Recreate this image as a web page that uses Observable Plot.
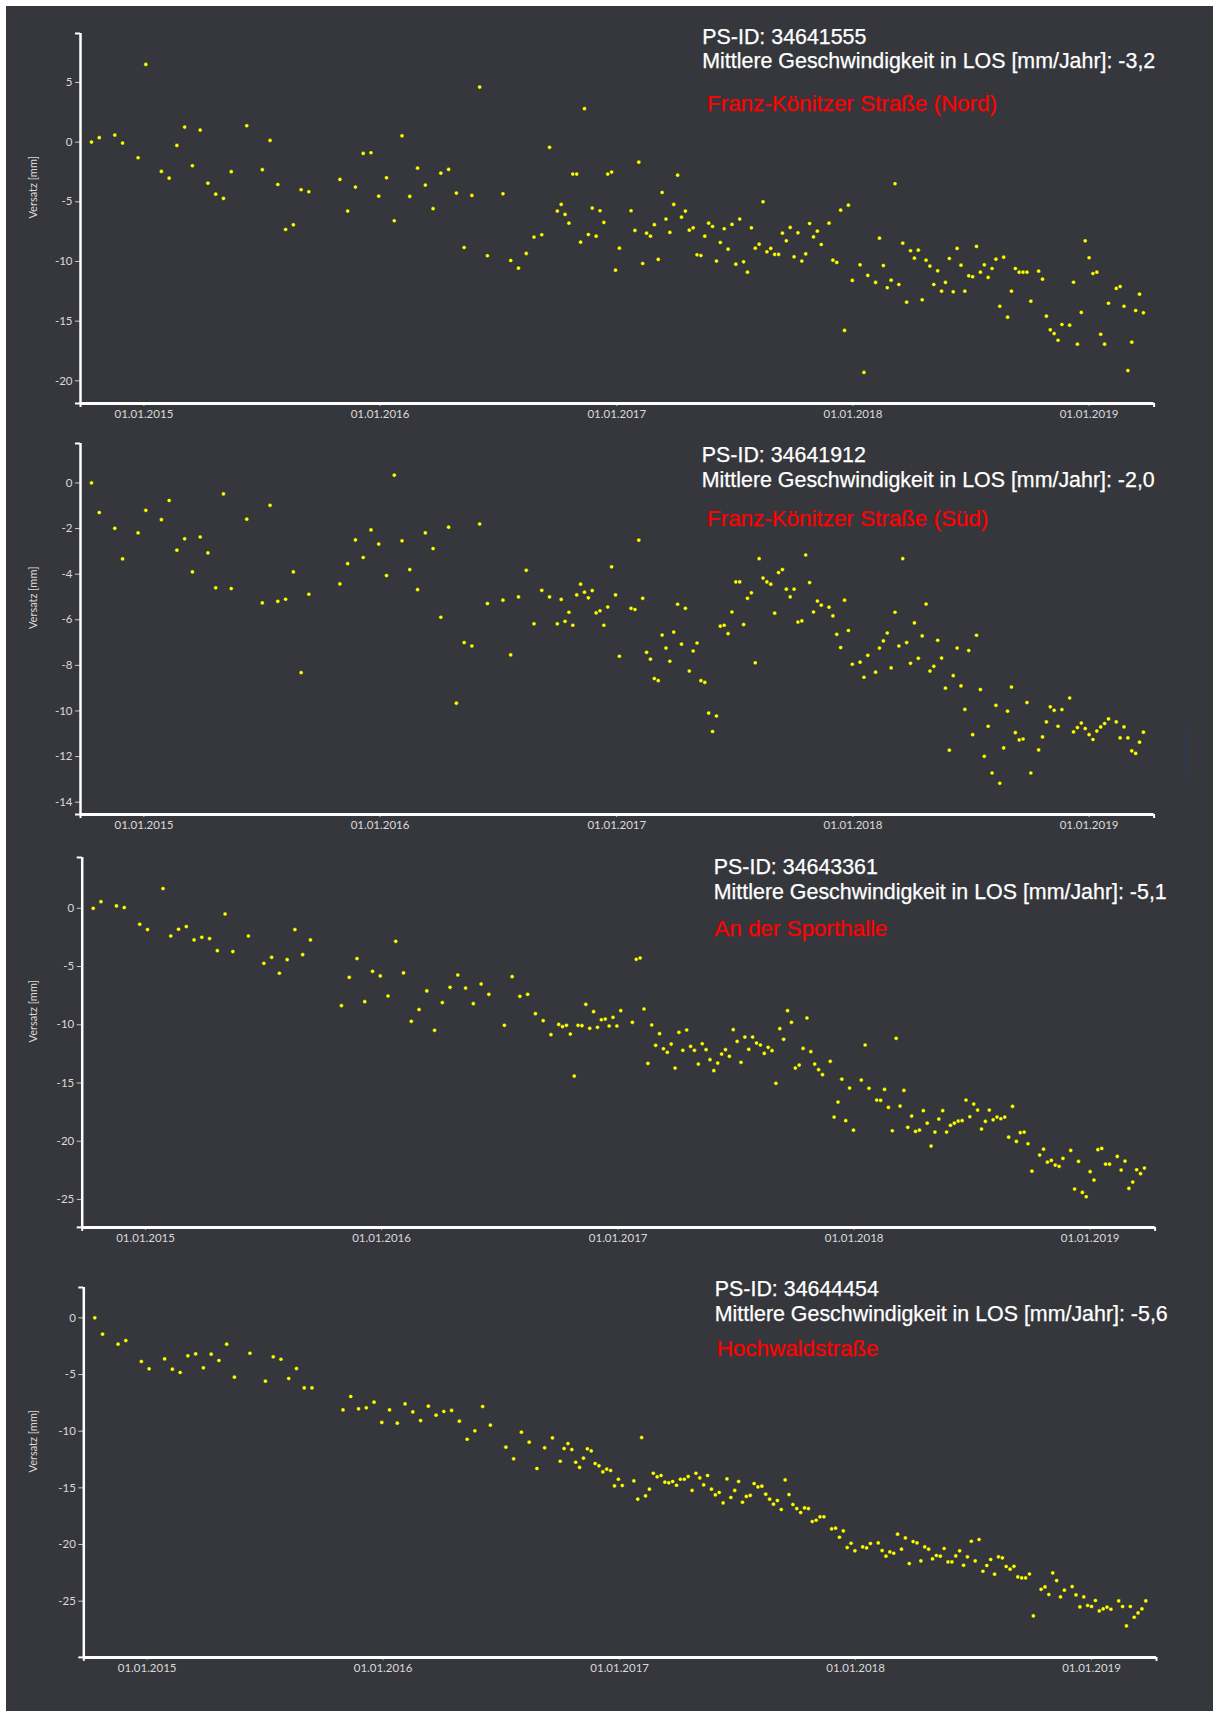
<!DOCTYPE html>
<html><head><meta charset="utf-8">
<script src="https://cdn.jsdelivr.net/npm/d3@7"></script>
<script src="https://cdn.jsdelivr.net/npm/@observablehq/plot@0.6"></script>
<style>
html,body{margin:0;padding:0}
body{background:#fff;width:1213px;height:1711px;position:relative;overflow:hidden}
#bg{position:absolute;left:6px;top:6px;width:1207px;height:1705px;background:#36373c}
.panel{position:absolute;left:0}
.hd{position:absolute;font-family:"Liberation Sans",Arial,sans-serif;color:#fff;font-size:21.4px;line-height:21.4px;white-space:nowrap;-webkit-text-stroke:0.25px currentColor}
.hd.red{color:#ff0000;font-size:22.4px;line-height:22.4px}
#artifact{position:absolute;left:1185px;top:725px;width:2px;height:52px;background:#2d3852}
</style></head><body>
<div id="bg"></div>
<div id="artifact"></div>
<script>
// Acquisition dates (shared by all four measuring points)
const dates = [
"2014-10-12","2014-10-24","2014-11-17","2014-11-29","2014-12-23","2015-01-04","2015-01-28","2015-02-09","2015-02-21","2015-03-05",
"2015-03-17","2015-03-29","2015-04-10","2015-04-22","2015-05-04","2015-05-16","2015-06-09","2015-07-03","2015-07-15","2015-07-27",
"2015-08-08","2015-08-20","2015-09-01","2015-09-13","2015-10-31","2015-11-12","2015-11-24","2015-12-06","2015-12-18","2015-12-30",
"2016-01-11","2016-01-23","2016-02-04",
"2016-02-16","2016-02-28","2016-03-11","2016-03-23","2016-04-04","2016-04-16","2016-04-28","2016-05-10","2016-05-22","2016-06-03","2016-06-15",
"2016-07-09","2016-07-21","2016-08-02","2016-08-14","2016-08-26","2016-09-07","2016-09-19",
"2016-10-01","2016-10-07","2016-10-13","2016-10-19","2016-10-25","2016-10-31","2016-11-06","2016-11-12","2016-11-18","2016-11-24",
"2016-11-30","2016-12-06","2016-12-12","2016-12-18","2016-12-24","2016-12-30","2017-01-05",
"2017-01-23","2017-01-29","2017-02-04","2017-02-10","2017-02-16","2017-02-22","2017-02-28","2017-03-06","2017-03-12","2017-03-18",
"2017-03-24","2017-03-30","2017-04-05","2017-04-11","2017-04-17","2017-04-23","2017-04-29","2017-05-05","2017-05-11","2017-05-17",
"2017-05-23","2017-05-29","2017-06-04","2017-06-10","2017-06-16","2017-06-22","2017-06-28","2017-07-04","2017-07-10","2017-07-16",
"2017-07-22","2017-07-28","2017-08-03","2017-08-09","2017-08-15","2017-08-21","2017-08-27","2017-09-02","2017-09-08","2017-09-14",
"2017-09-20","2017-09-26","2017-10-02","2017-10-08","2017-10-14","2017-10-20","2017-10-26","2017-11-01","2017-11-07","2017-11-13",
"2017-11-25","2017-12-01","2017-12-07","2017-12-13","2017-12-19","2017-12-25","2017-12-31",
"2018-01-12","2018-01-18","2018-01-24",
"2018-02-05","2018-02-11","2018-02-17","2018-02-23","2018-03-01","2018-03-07","2018-03-13","2018-03-19","2018-03-25","2018-03-31",
"2018-04-06","2018-04-12","2018-04-18","2018-04-24","2018-04-30","2018-05-06","2018-05-12","2018-05-18","2018-05-24","2018-05-30",
"2018-06-05","2018-06-11","2018-06-17","2018-06-23","2018-06-29","2018-07-05","2018-07-11","2018-07-17","2018-07-23","2018-07-29",
"2018-08-04","2018-08-10","2018-08-16","2018-08-22","2018-08-28","2018-09-03","2018-09-09","2018-09-15","2018-09-21","2018-09-27",
"2018-10-03",
"2018-10-15","2018-10-21","2018-10-27","2018-11-02","2018-11-08","2018-11-14","2018-11-20",
"2018-12-02","2018-12-08","2018-12-14","2018-12-20","2018-12-26","2019-01-01","2019-01-07","2019-01-13","2019-01-19","2019-01-25","2019-01-31",
"2019-02-12","2019-02-18","2019-02-24","2019-03-02","2019-03-08","2019-03-14","2019-03-20","2019-03-26"
];

// Versatz [mm] per measuring point
const versatz34641555 = [
0.0,0.37,0.59,-0.08,-1.31,6.51,-2.46,-3.02,-0.28,1.26,-1.98,1.01,-3.44,-4.36,-4.72,-2.48,1.37,-2.31,0.14,-3.55,-7.32,-6.93,-3.99,-4.16,-3.13,-5.78,-3.77,-0.95,-0.89,-4.53,-2.99,-6.59,0.53,
-4.55,-2.18,-3.6,-5.58,-2.6,-2.29,-4.27,-8.83,-4.47,4.61,-9.52,
-4.33,-9.92,-10.56,-9.33,-7.96,-7.76,-0.44,
-5.78,-5.22,-6.06,-6.79,-2.68,-2.68,-8.38,2.8,-7.74,-5.53,-7.88,-5.75,-6.73,-2.68,-2.51,-10.73,-8.89,
-5.75,-7.4,-1.68,-10.17,-7.63,-7.88,-6.92,-9.83,-4.22,-6.45,-7.57,-5.22,-2.77,-6.29,-5.78,-7.38,-7.18,-9.44,-9.5,-7.88,-6.79,-7.07,-9.97,-8.41,-7.26,-8.97,-6.9,-10.23,-6.45,
-10.03,-10.9,-7.18,-8.89,-8.55,-5.0,-9.19,-8.91,-9.41,-9.41,-7.63,-8.27,-7.15,-9.61,-7.6,-9.97,-9.36,-6.82,-7.94,-7.46,-8.58,
-6.79,-9.89,-10.08,-5.7,-15.78,-5.28,-11.59,
-10.28,-19.3,-11.17,
-11.76,-8.05,-10.34,-12.2,-11.57,-3.49,-11.93,-8.47,-13.41,-9.1,-9.72,-9.05,-13.21,-9.89,-10.39,-11.93,-10.78,-12.49,-11.76,-9.75,-12.54,-8.91,-10.31,-12.49,-11.2,-11.28,-8.74,-10.9,-10.28,-11.34,-10.59,-9.81,-13.75,-9.64,-14.67,-12.49,-10.59,-10.9,-10.9,-10.9,-13.33,
-10.81,-11.48,-14.58,-15.73,-16.04,-16.6,-15.28,
-15.34,-11.74,-16.93,-14.27,-8.27,-9.69,-11.01,-10.9,-16.1,-16.93,-13.5,
-12.26,-12.1,-13.75,-19.14,-16.76,-14.11,-12.74,-14.3
];
const versatz34641912 = [
0.0,-1.3,-1.99,-3.33,-2.19,-1.2,-1.61,-0.77,-2.95,-2.45,-3.9,-2.37,-3.07,-4.6,-0.48,-4.63,-1.59,-5.26,-0.98,-5.19,-5.1,-3.9,-8.32,-4.88,-4.43,-3.54,-2.5,-3.27,-2.06,-2.68,-4.06,0.34,-2.54,
-3.8,-4.68,-2.19,-2.88,-5.89,-1.94,-9.66,-7.0,-7.15,-1.8,-5.29,
-5.14,-7.54,-5.0,-3.83,-6.18,-4.71,-5.0,
-6.18,-5.11,-6.07,-5.67,-6.24,-4.91,-4.44,-4.79,-5.04,-4.72,-5.7,-5.61,-6.24,-5.44,-3.68,-4.91,-7.6,
-5.5,-5.55,-2.51,-5.06,-7.43,-7.73,-8.58,-8.67,-6.67,-7.24,-7.82,-6.54,-5.32,-7.07,-5.5,-8.25,-7.37,-7.02,-8.67,-8.75,-10.09,-10.9,-10.22,-6.28,-6.24,-6.61,-5.66,-4.34,-4.34,
-6.21,-5.06,-4.82,-7.89,-3.32,-4.17,-4.34,-4.44,-5.71,-3.93,-3.8,-4.66,-5.0,-4.66,-6.1,-6.05,-3.16,-4.37,-5.66,-5.18,-5.36,
-5.45,-5.83,-6.64,-7.22,-5.14,-6.47,-7.95,
-7.86,-8.52,-7.56,
-8.3,-7.24,-6.93,-6.58,-8.11,-5.67,-7.15,-3.32,-7.0,-7.91,-6.14,-7.69,-6.71,-5.31,-8.25,-8.04,-6.9,-7.68,-9.0,-11.72,-8.45,-7.24,-8.9,-9.93,-7.35,-11.04,-6.68,-9.06,-11.99,-10.67,-12.72,-9.75,-13.17,-11.62,-10.01,-8.95,-10.95,-11.27,-11.23,-9.63,-12.72,
-11.71,-11.14,-10.48,-9.82,-9.97,-10.67,-9.94,
-9.43,-10.92,-10.73,-10.53,-10.77,-11.04,-11.25,-10.88,-10.7,-10.55,-10.35,
-10.48,-11.18,-10.7,-11.18,-11.75,-11.86,-11.37,-10.93
];
const versatz34643361 = [
0.0,0.57,0.2,0.06,-1.37,-1.83,1.69,-2.38,-1.8,-1.57,-2.72,-2.49,-2.6,-3.64,-0.49,-3.72,-2.38,-4.73,-4.21,-5.58,-4.41,-1.83,-3.98,-2.72,-8.36,-5.93,-4.32,-8.02,-5.41,-5.81,-7.53,-2.84,-5.55,
-9.71,-8.7,-7.1,-10.48,-8.1,-6.79,-5.73,-6.85,-8.19,-6.5,-7.39,
-10.05,-5.87,-7.56,-7.39,-9.05,-9.65,-10.85,
-9.97,-10.16,-10.05,-10.8,-14.41,-10.05,-10.08,-8.25,-10.31,-8.88,-10.22,-9.57,-9.51,-10.11,-9.36,-10.11,-8.79,
-9.79,-4.38,-4.27,-8.65,-13.32,-10.02,-11.77,-10.77,-12.06,-12.37,-11.66,-13.72,-10.65,-12.2,-10.45,-11.86,-12.2,-13.38,-11.63,-12.14,-13.0,-13.94,-13.29,-12.52,-12.14,-12.71,-10.42,-11.43,-13.23,
-11.06,-12.11,-11.06,-11.57,-11.74,-12.46,-11.94,-12.23,-15.03,-10.34,-11.25,-8.79,-9.79,-13.72,-13.46,-12.03,-9.42,-12.31,-13.38,-13.86,-14.29,
-13.14,-17.93,-16.64,-14.67,-18.24,-15.44,-19.05,
-14.75,-11.74,-15.46,
-16.47,-16.49,-15.55,-17.1,-19.1,-11.17,-16.98,-15.64,-18.81,-17.84,-19.16,-19.05,-17.38,-18.45,-20.42,-19.22,-18.1,-17.38,-19.22,-18.64,-18.45,-18.27,-18.24,-16.47,-17.9,-16.81,-17.33,-18.96,-18.3,-17.33,-18.16,-17.93,-18.07,-17.93,-19.65,-17.01,-20.02,-19.27,-19.22,-20.22,-22.57,
-21.19,-20.68,-21.8,-21.65,-22.05,-22.16,-21.48,
-20.79,-24.11,-21.74,-24.4,-24.77,-22.62,-23.34,-20.73,-20.62,-21.97,-21.97,
-21.31,-22.48,-21.71,-24.05,-23.51,-22.45,-22.79,-22.31
];
const versatz34644454 = [
0.0,-1.44,-2.32,-2.0,-3.85,-4.5,-3.62,-4.53,-4.82,-3.35,-3.18,-4.41,-3.2,-3.76,-2.32,-5.23,-3.12,-5.59,-3.44,-3.65,-5.35,-4.47,-6.18,-6.18,-8.12,-6.94,-8.03,-7.94,-7.44,-9.23,-8.12,-9.29,-7.59,
-8.3,-9.06,-7.79,-8.59,-8.26,-8.17,-9.12,-10.71,-9.97,-7.82,-9.47,
-11.41,-12.44,-10.09,-10.97,-13.29,-11.47,-10.59,
-12.65,-11.53,-11.09,-11.62,-12.74,-13.2,-12.38,-11.56,-11.74,-12.85,-13.06,-13.59,-13.35,-13.47,-14.83,-14.24,-14.79,
-14.39,-16.0,-10.56,-15.71,-15.12,-13.71,-14.03,-13.91,-14.5,-14.56,-14.44,-14.77,-14.24,-14.24,-14.0,-15.23,-13.71,-14.12,-14.74,-13.91,-15.12,-15.62,-15.41,-16.33,-14.21,-15.85,-15.23,-14.44,-16.27,
-15.76,-15.67,-14.62,-14.92,-14.85,-15.56,-16.0,-16.44,-16.12,-16.91,-14.3,-15.59,-16.47,-16.83,-17.18,-16.77,-16.83,-17.97,-17.86,-17.56,-17.56,
-18.62,-18.56,-19.36,-18.8,-20.27,-19.89,-20.56,
-20.21,-20.3,-19.91,
-19.86,-20.53,-21.03,-20.65,-20.77,-19.09,-20.41,-19.42,-21.68,-19.74,-19.86,-21.45,-20.21,-20.41,-21.27,-20.97,-21.03,-20.35,-21.54,-21.54,-21.01,-20.56,-21.83,-21.09,-19.71,-21.45,-19.56,-22.36,-21.85,-21.32,-22.62,-21.09,-21.18,-21.94,-22.18,-21.92,-22.86,-22.95,-22.95,-22.6,-26.3,
-23.95,-23.74,-24.41,-22.51,-23.18,-24.62,-24.03,
-23.71,-24.45,-25.51,-24.62,-25.38,-25.47,-24.94,-25.86,-25.68,-25.53,-25.71,
-24.98,-25.47,-27.18,-25.47,-26.42,-26.04,-25.68,-24.98
];

const psIds = ["34641555","34641912","34643361","34644454"];
const speeds = ["-3,2","-2,0","-5,1","-5,6"];
const places = ["Franz-Könitzer Straße (Nord)","Franz-Könitzer Straße (Süd)","An der Sporthalle","Hochwaldstraße"];
const series = [versatz34641555, versatz34641912, versatz34643361, versatz34644454];
const yDomains = [[-21.9, 9.1],[-14.54, 1.73],[-27.4, 4.36],[-29.96, 2.68]];
const yTicks = [[-20,-15,-10,-5,0,5],[-14,-12,-10,-8,-6,-4,-2,0],[-25,-20,-15,-10,-5,0],[-25,-20,-15,-10,-5,0]];
const xTickDates = ["2015-01-01","2016-01-01","2017-01-01","2018-01-01","2019-01-01"];
const xDomainDates = ["2014-09-25T00:00Z","2019-04-11T12:00Z"];

// layout (page pixels)
const layout = [
  {top:33,    bottom:403,    left:80,   right:1153.6, hx:702.3, hy:[45,69],       rx:707,   ry:112.3},
  {top:443.3, bottom:814.3,  left:80,   right:1153.6, hx:701.8, hy:[463.3,487.7], rx:707,   ry:526.7},
  {top:857.3, bottom:1227.2, left:81.7, right:1154.6, hx:713.8, hy:[875,900],     rx:714.3, ry:937.3},
  {top:1287.3,bottom:1657.2, left:83.3, right:1156,   hx:714.8, hy:[1296.7,1321.7],rx:716.7,ry:1357.3}
];

const parse = s => new Date(s.length === 10 ? s + "T00:00Z" : s);
const fmt = d3.utcFormat("%d.%m.%Y");
const xDomain = xDomainDates.map(parse);
const xTicks = xTickDates.map(parse);

function addText(cls, txt, left, baseline, size){
  const el = document.createElement("div");
  el.className = cls;
  el.textContent = txt;
  el.style.left = left + "px";
  el.style.top = (baseline - 0.8465 * size) + "px";
  document.body.appendChild(el);
}

series.forEach((vals, i) => {
  const L = layout[i];
  const n = Math.min(vals.length, dates.length);
  const data = [];
  for (let k = 0; k < n; k++) data.push({date: parse(dates[k]), v: vals[k]});
  const [ymin, ymax] = yDomains[i];
  const mt = 20, mb = 30;
  const chart = Plot.plot({
    width: 1213,
    height: (L.bottom - L.top) + mt + mb,
    marginTop: mt, marginBottom: mb,
    marginLeft: L.left, marginRight: 1213 - L.right,
    style: {background: "transparent", color: "#dadada", fontFamily: "Lato, sans-serif", fontSize: "11.5px", overflow: "visible"},
    x: {type: "utc", domain: xDomain, label: null, axis: null},
    y: {domain: yDomains[i], label: null, axis: null},
    marks: [
      Plot.axisX(xTicks, {tickFormat: fmt, tickSize: 3, tickPadding: 3, stroke: "#c8c8c8", fill: "#dadada", label: null}),
      Plot.axisY(yTicks[i], {tickFormat: d => String(d), tickSize: 5, tickPadding: 3, stroke: "#c8c8c8", fill: "#dadada", label: null}),
      Plot.axisY([ymin, ymax], {tickSize: 5, fill: "none", stroke: "#ffffff", strokeWidth: 2, label: null}),
      Plot.axisX(xDomain, {tickSize: 4, fill: "none", stroke: "#ffffff", strokeWidth: 2, label: null}),
      Plot.ruleX([xDomain[0]], {stroke: "#ffffff", strokeWidth: 2.5}),
      Plot.ruleY([ymin], {stroke: "#ffffff", strokeWidth: 3}),
      Plot.text(["Versatz [mm]"], {frameAnchor: "left", dx: -(L.left - 33), rotate: -90, fill: "#dadada", fontSize: 11}),
      Plot.dot(data, {x: "date", y: "v", r: 2.1, fill: "#ffff00", stroke: "#1e2236", strokeWidth: 0.5})
    ]
  });
  const wrap = document.createElement("div");
  wrap.className = "panel";
  wrap.style.top = (L.top - mt) + "px";
  wrap.appendChild(chart);
  document.body.appendChild(wrap);

  addText("hd", "PS-ID: " + psIds[i], L.hx, L.hy[0], 21.4);
  addText("hd", "Mittlere Geschwindigkeit in LOS [mm/Jahr]: " + speeds[i], L.hx, L.hy[1], 21.4);
  addText("hd red", places[i], L.rx, L.ry, 22.4);
});
</script>
</body></html>
